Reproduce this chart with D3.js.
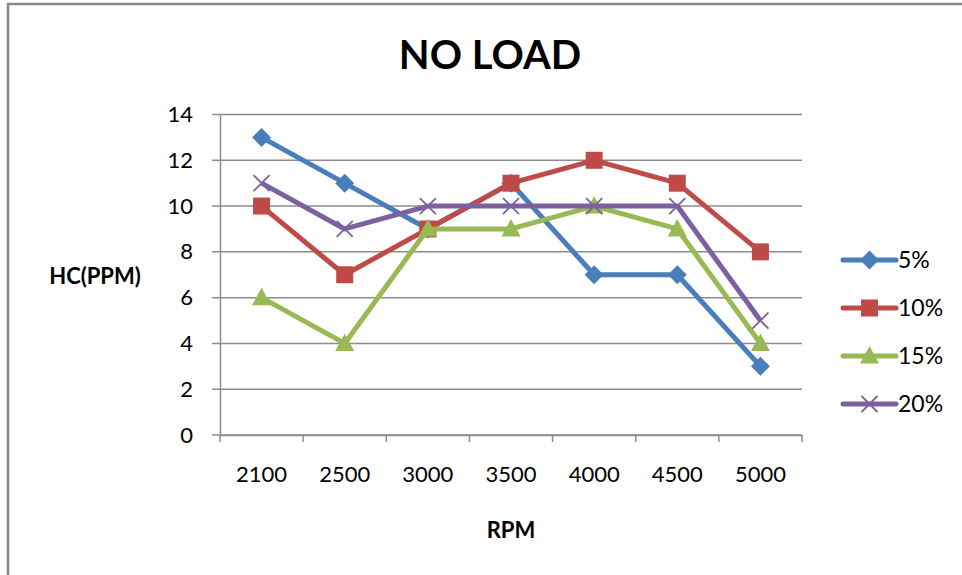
<!DOCTYPE html>
<html><head><meta charset="utf-8">
<script src="https://cdn.jsdelivr.net/npm/d3@7"></script>
<style>body{margin:0;background:#fff}svg{display:block}text{font-family:Lato,"Open Sans",sans-serif}</style>
</head><body><svg id="c" width="962" height="575"></svg>
<script>
const categories = ["2100","2500","3000","3500","4000","4500","5000"];
const seriesNames = ["5%","10%","15%","20%"];
const s5  = [13,11,9,11,7,7,3];
const s10 = [10,7,9,11,12,11,8];
const s15 = [6,4,9,9,10,9,4];
const s20 = [11,9,10,10,10,10,5];
const yTicks = [0,2,4,6,8,10,12,14];
const colors = ["#4A7EBB","#BE4B48","#98B954","#7D60A0"];
const symbols = ["diamond","square","triangle","x"];
const seriesValues = [s5,s10,s15,s20];

const svg = d3.select("#c");
const L=220,R=802,T=114.5,B=435;
const x = d3.scaleBand().domain(categories).range([L,R]);
const y = d3.scaleLinear().domain([0,14]).range([B,T]);

// border
svg.append("path").attr("d","M8,575 V4 H962").attr("fill","none").attr("stroke","#888").attr("stroke-width",2.5);

// grid
svg.append("g").selectAll("line").data(yTicks).join("line")
  .attr("x1",L-8).attr("x2",R).attr("y1",d=>y(d)).attr("y2",d=>y(d))
  .attr("stroke","#8c8c8c").attr("stroke-width",1.5);

// y axis
const ya = svg.append("g").attr("transform",`translate(${L},0)`)
  .call(d3.axisLeft(y).tickValues(yTicks).tickSize(0).tickPadding(27));
ya.select(".domain").attr("stroke","#8c8c8c").attr("stroke-width",1.5);
ya.selectAll("text").attr("font-size",22).attr("fill","#000").attr("font-family","Lato,sans-serif");

// x axis
const xa = svg.append("g").attr("transform",`translate(0,${B})`)
  .call(d3.axisBottom(x).tickSize(0).tickPadding(31));
xa.select(".domain").attr("stroke","#8c8c8c").attr("stroke-width",1.5);
xa.selectAll("text").attr("font-size",22).attr("fill","#000").attr("font-family","Lato,sans-serif");
const bounds = categories.map(c=>x(c)).concat([R]);
svg.append("g").selectAll("line").data(bounds).join("line")
  .attr("x1",d=>d).attr("x2",d=>d).attr("y1",B).attr("y2",B+7)
  .attr("stroke","#8c8c8c").attr("stroke-width",1.5);

const cx = c => x(c)+x.bandwidth()/2;

function marker(g, sym, px, py, col){
  if(sym==="diamond"){
    g.append("path").attr("d",`M${px},${py-9.5}L${px+9.5},${py}L${px},${py+9.5}L${px-9.5},${py}Z`).attr("fill",col);
  } else if(sym==="square"){
    g.append("rect").attr("x",px-8.5).attr("y",py-8.5).attr("width",17).attr("height",17).attr("fill",col);
  } else if(sym==="triangle"){
    g.append("path").attr("d",`M${px},${py-10}L${px+9.5},${py+7.5}L${px-9.5},${py+7.5}Z`).attr("fill",col);
  } else {
    g.append("path").attr("d",`M${px-8},${py-8}L${px+8},${py+8}M${px-8},${py+8}L${px+8},${py-8}`).attr("stroke",col).attr("stroke-width",1.8);
  }
}

const line = d3.line().x((d,i)=>cx(categories[i])).y(d=>y(d));
seriesValues.forEach((vals,si)=>{
  const g = svg.append("g");
  g.append("path").attr("d",line(vals)).attr("fill","none").attr("stroke",colors[si]).attr("stroke-width",5).attr("stroke-linejoin","round");
  vals.forEach((v,i)=>marker(g,symbols[si],cx(categories[i]),y(v),colors[si]));
});

// legend
const ly = [260,308,356,404];
seriesNames.forEach((n,i)=>{
  const g = svg.append("g");
  g.append("line").attr("x1",843).attr("x2",896).attr("y1",ly[i]).attr("y2",ly[i]).attr("stroke",colors[i]).attr("stroke-width",5).attr("stroke-linecap","round");
  marker(g,symbols[i],869.5,ly[i],colors[i]);
  g.append("text").attr("x",898).attr("y",ly[i]+8).attr("font-size",23).text(n);
});

// titles
svg.append("text").attr("x",490).attr("y",69).attr("text-anchor","middle").attr("font-size",40).attr("font-weight","bold").text("NO LOAD");
svg.append("text").attr("x",511).attr("y",538).attr("text-anchor","middle").attr("font-size",22).attr("font-weight","bold").text("RPM");
svg.append("text").attr("x",95).attr("y",284).attr("text-anchor","middle").attr("font-size",22).attr("font-weight","bold").text("HC(PPM)");
</script></body></html>
